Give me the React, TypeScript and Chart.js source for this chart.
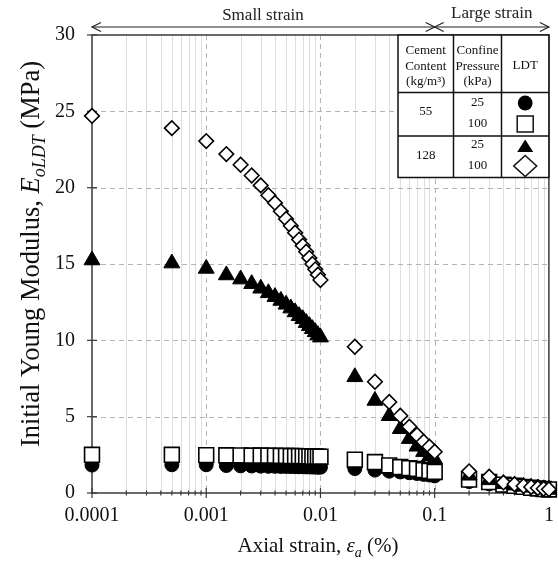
import React, { useEffect, useRef } from "react";
import { Chart, registerables } from "chart.js";

Chart.register(...registerables);

// Axial strain (%) at which the initial Young modulus was evaluated
const strainPct = [
  0.0001, 0.0005, 0.001, 0.0015, 0.002, 0.0025, 0.003, 0.0035, 0.004, 0.0045,
  0.005, 0.0055, 0.006, 0.0065, 0.007, 0.0075, 0.008, 0.0085, 0.009, 0.0095, 0.01,
  0.02, 0.03, 0.04, 0.05, 0.06, 0.07, 0.08, 0.09, 0.1,
  0.2, 0.3, 0.4, 0.5, 0.6, 0.7, 0.8, 0.9, 1.0,
];

// E_oLDT (MPa): cement 55 kg/m3, confining 25 kPa
const e55c25 = [
  1.83, 1.85, 1.85, 1.8, 1.78, 1.77, 1.76, 1.75, 1.75, 1.74,
  1.74, 1.73, 1.73, 1.72, 1.72, 1.71, 1.71, 1.7, 1.7, 1.69, 1.69,
  1.6, 1.5, 1.43, 1.38, 1.33, 1.28, 1.22, 1.18, 1.12,
  0.75, 0.6, 0.48, 0.4, 0.35, 0.3, 0.26, 0.23, 0.2,
];

// cement 55 kg/m3, confining 100 kPa
const e55c100 = [
  2.5, 2.5, 2.48, 2.47, 2.46, 2.45, 2.45, 2.44, 2.44, 2.43,
  2.43, 2.42, 2.42, 2.41, 2.41, 2.4, 2.4, 2.39, 2.39, 2.38, 2.38,
  2.18, 2.03, 1.81, 1.7, 1.63, 1.58, 1.5, 1.45, 1.38,
  0.88, 0.72, 0.55, 0.47, 0.4, 0.34, 0.3, 0.26, 0.23,
];

// cement 128 kg/m3, confining 25 kPa
const e128c25 = [
  15.25, 15.05, 14.7, 14.27, 14.0, 13.7, 13.4, 13.1, 12.85, 12.6,
  12.35, 12.1, 11.85, 11.6, 11.4, 11.15, 10.95, 10.75, 10.55, 10.35, 10.2,
  7.6, 6.05, 5.05, 4.2, 3.55, 3.05, 2.7, 2.4, 2.2,
  1.15, 0.85, 0.6, 0.5, 0.42, 0.36, 0.3, 0.26, 0.22,
];

// cement 128 kg/m3, confining 100 kPa
const e128c100 = [
  24.7, 23.9, 23.05, 22.2, 21.5, 20.8, 20.15, 19.5, 19.0, 18.45,
  17.95, 17.5, 17.05, 16.6, 16.2, 15.8, 15.4, 15.0, 14.65, 14.3, 13.95,
  9.58, 7.29, 5.96, 5.06, 4.34, 3.8, 3.36, 3.03, 2.7,
  1.42, 1.07, 0.68, 0.57, 0.46, 0.39, 0.33, 0.28, 0.24,
];

const xTickValues = [0.0001, 0.001, 0.01, 0.1, 1];
const xTickLabels = ["0.0001", "0.001", "0.01", "0.1", "1"];
const yTickStep = 5;

const cementContent = ["55", "128"];
const confinePressure = ["25", "100"];
const strainZones = ["Small strain", "Large strain"];
const zoneBoundary = 0.1;

const SERIF = '"Liberation Serif", "Times New Roman", serif';
const INK = "#111";

type Part = { t: string; i?: boolean; sub?: boolean };

function drawRich(ctx: CanvasRenderingContext2D, parts: Part[], cx: number, cy: number, size: number) {
  const fontFor = (p: Part) =>
    `${p.i ? "italic " : ""}${p.sub ? Math.round(size * 0.68) : size}px ${SERIF}`;
  let total = 0;
  const widths = parts.map((p) => {
    ctx.font = fontFor(p);
    const w = ctx.measureText(p.t).width;
    total += w;
    return w;
  });
  let x = cx - total / 2;
  const base = cy + size * 0.33;
  ctx.textAlign = "left";
  ctx.textBaseline = "alphabetic";
  parts.forEach((p, k) => {
    ctx.font = fontFor(p);
    ctx.fillText(p.t, x, p.sub ? base + size * 0.22 : base);
    x += widths[k];
  });
}

function line(ctx: CanvasRenderingContext2D, x1: number, y1: number, x2: number, y2: number) {
  ctx.beginPath();
  ctx.moveTo(x1, y1);
  ctx.lineTo(x2, y2);
  ctx.stroke();
}

// grid, frame and tick marks underneath the markers
const gridPlugin = {
  id: "gridFrame",
  beforeDatasetsDraw(chart: any) {
    const { ctx, chartArea: a, scales } = chart;
    const xs = scales.x;
    const ys = scales.y;
    ctx.save();
    ctx.lineWidth = 1;
    ctx.strokeStyle = "#dedede";
    ctx.setLineDash([]);
    for (const d of xTickValues.slice(0, -1)) {
      for (let k = 2; k <= 9; k++) {
        const px = Math.round(xs.getPixelForValue(d * k)) + 0.5;
        line(ctx, px, a.top, px, a.bottom);
      }
    }
    ctx.strokeStyle = "#b4b4b4";
    ctx.setLineDash([5, 4]);
    for (const d of xTickValues.slice(1, -1)) {
      const px = Math.round(xs.getPixelForValue(d)) + 0.5;
      line(ctx, px, a.top, px, a.bottom);
    }
    for (let v = yTickStep; v < ys.max; v += yTickStep) {
      const py = Math.round(ys.getPixelForValue(v)) + 0.5;
      line(ctx, a.left, py, a.right, py);
    }
    ctx.setLineDash([]);
    ctx.strokeStyle = "#3a3a3a";
    ctx.lineWidth = 1.5;
    ctx.strokeRect(a.left, a.top, a.right - a.left, a.bottom - a.top);
    ctx.lineWidth = 1.2;
    for (let v = 0; v <= ys.max; v += yTickStep) {
      const py = ys.getPixelForValue(v);
      line(ctx, a.left - 5, py, a.left + 5, py);
    }
    for (const d of xTickValues) {
      const px = xs.getPixelForValue(d);
      line(ctx, px, a.bottom - 5, px, a.bottom + 5);
      if (d < 1) {
        for (let k = 2; k <= 9; k++) {
          const mx = xs.getPixelForValue(d * k);
          line(ctx, mx, a.bottom - 2.5, mx, a.bottom + 2.5);
        }
      }
    }
    ctx.restore();
  },
};

// key table, strain-range arrows and axis titles
const overlayPlugin = {
  id: "overlay",
  afterDatasetsDraw(chart: any) {
    const { ctx, chartArea: a, scales } = chart;
    const xs = scales.x;
    ctx.save();

    // key table
    const colX = [398, 453.5, 501.5, a.right];
    const rowY = [a.top, 92.5, 136, 177.5];
    ctx.fillStyle = "#fff";
    ctx.fillRect(colX[0], rowY[0], colX[3] - colX[0], rowY[3] - rowY[0]);
    ctx.strokeStyle = INK;
    ctx.lineWidth = 1.5;
    ctx.strokeRect(colX[0], rowY[0], colX[3] - colX[0], rowY[3] - rowY[0]);
    for (let c = 1; c < 3; c++) line(ctx, colX[c], rowY[0], colX[c], rowY[3]);
    for (let r = 1; r < 3; r++) line(ctx, colX[0], rowY[r], colX[3], rowY[r]);

    ctx.fillStyle = INK;
    ctx.font = `13px ${SERIF}`;
    ctx.textAlign = "center";
    ctx.textBaseline = "middle";
    const c0 = (colX[0] + colX[1]) / 2;
    const c1 = (colX[1] + colX[2]) / 2;
    const c2 = (colX[2] + colX[3]) / 2;
    ["Cement", "Content", "(kg/m³)"].forEach((s, k) => ctx.fillText(s, c0, 51 + k * 15.5));
    ["Confine", "Pressure", "(kPa)"].forEach((s, k) => ctx.fillText(s, c1, 51 + k * 15.5));
    ctx.fillText("LDT", c2, 66);
    ctx.fillText(cementContent[0], c0, 112);
    ctx.fillText(cementContent[1], c0, 156);
    ctx.fillText(confinePressure[0], c1, 103);
    ctx.fillText(confinePressure[1], c1, 123.5);
    ctx.fillText(confinePressure[0], c1, 145);
    ctx.fillText(confinePressure[1], c1, 165.5);

    // key symbols
    ctx.fillStyle = "#000";
    ctx.beginPath();
    ctx.arc(c2, 103, 7.4, 0, Math.PI * 2);
    ctx.fill();
    ctx.lineWidth = 1.5;
    ctx.fillStyle = "#fff";
    ctx.fillRect(c2 - 8, 116, 16, 16);
    ctx.strokeRect(c2 - 8, 116, 16, 16);
    ctx.fillStyle = "#000";
    ctx.beginPath();
    ctx.moveTo(c2, 139.5);
    ctx.lineTo(c2 + 8, 152);
    ctx.lineTo(c2 - 8, 152);
    ctx.closePath();
    ctx.fill();
    ctx.fillStyle = "#fff";
    ctx.beginPath();
    ctx.moveTo(c2, 155.5);
    ctx.lineTo(c2 + 11.5, 166);
    ctx.lineTo(c2, 176.5);
    ctx.lineTo(c2 - 11.5, 166);
    ctx.closePath();
    ctx.fill();
    ctx.stroke();

    // strain ranges above the plot
    const ay = 27;
    const mid = xs.getPixelForValue(zoneBoundary);
    ctx.strokeStyle = "#222";
    ctx.lineWidth = 1.2;
    line(ctx, a.left, ay, a.right, ay);
    const head = (x: number, dir: number) => {
      ctx.beginPath();
      ctx.moveTo(x + dir * 9, ay - 4.5);
      ctx.lineTo(x, ay);
      ctx.lineTo(x + dir * 9, ay + 4.5);
      ctx.stroke();
    };
    head(a.left, 1);
    head(mid, -1);
    head(mid, 1);
    head(a.right, -1);
    ctx.fillStyle = "#222";
    ctx.font = `17px ${SERIF}`;
    ctx.textAlign = "center";
    ctx.textBaseline = "middle";
    ctx.fillText(strainZones[0], 263, 16);
    ctx.fillText(strainZones[1], (mid + a.right) / 2, 14);

    // axis titles
    ctx.fillStyle = INK;
    drawRich(
      ctx,
      [{ t: "Axial strain, " }, { t: "ε", i: true }, { t: "a", i: true, sub: true }, { t: " (%)" }],
      318,
      545,
      21
    );
    ctx.translate(30, 254);
    ctx.rotate(-Math.PI / 2);
    drawRich(
      ctx,
      [
        { t: "Initial Young Modulus, " },
        { t: "E", i: true },
        { t: "oLDT", i: true, sub: true },
        { t: " (MPa)" },
      ],
      0,
      0,
      26.5
    );
    ctx.restore();
  },
};

function series(values: number[]) {
  return strainPct.map((x, i) => ({ x, y: values[i] }));
}

export default function App() {
  const ref = useRef<HTMLCanvasElement>(null);

  useEffect(() => {
    const canvas = ref.current;
    if (!canvas) return;
    const tickFont = { family: SERIF, size: 20 };
    const chart = new Chart(canvas, {
      type: "scatter",
      data: {
        datasets: [
          {
            label: "55 kg/m³, 25 kPa",
            data: series(e55c25),
            pointStyle: "circle",
            pointRadius: 7,
            backgroundColor: "#000",
            borderColor: "#000",
            borderWidth: 1,
            order: 4,
            clip: false,
          },
          {
            label: "55 kg/m³, 100 kPa",
            data: series(e55c100),
            pointStyle: "rect",
            pointRadius: 10.5,
            backgroundColor: "#fff",
            borderColor: "#000",
            borderWidth: 1.6,
            order: 3,
            clip: false,
          },
          {
            label: "128 kg/m³, 25 kPa",
            data: series(e128c25),
            pointStyle: "triangle",
            pointRadius: 9.2,
            backgroundColor: "#000",
            borderColor: "#000",
            borderWidth: 1,
            order: 2,
            clip: false,
          },
          {
            label: "128 kg/m³, 100 kPa",
            data: series(e128c100),
            pointStyle: "rectRot",
            pointRadius: 7.3,
            backgroundColor: "#fff",
            borderColor: "#000",
            borderWidth: 1.6,
            order: 1,
            clip: false,
          },
        ] as any,
      },
      options: {
        responsive: false,
        animation: false,
        events: [],
        layout: { padding: { left: 0, top: 35, right: 9, bottom: 0 } },
        plugins: { legend: { display: false }, tooltip: { enabled: false } },
        scales: {
          x: {
            type: "logarithmic",
            min: 0.0001,
            max: 1,
            grid: { display: false, drawTicks: false },
            border: { display: false },
            afterBuildTicks: (s: any) => {
              s.ticks = xTickValues.map((v) => ({ value: v, major: true }));
            },
            afterFit: (s: any) => {
              s.height = 69;
              s.paddingLeft = 0;
              s.paddingRight = 0;
            },
            ticks: {
              font: tickFont,
              color: INK,
              padding: 11,
              maxRotation: 0,
              autoSkip: false,
              callback: (v: any) => {
                const k = xTickValues.indexOf(Number(v));
                return k >= 0 ? xTickLabels[k] : "";
              },
            },
          },
          y: {
            type: "linear",
            min: 0,
            max: 30,
            grid: { display: false, drawTicks: false },
            border: { display: false },
            afterFit: (s: any) => {
              s.width = 92;
              s.paddingTop = 0;
              s.paddingBottom = 0;
            },
            ticks: { stepSize: yTickStep, font: tickFont, color: INK, padding: 17 },
          },
        },
      } as any,
      plugins: [gridPlugin, overlayPlugin],
    });
    return () => chart.destroy();
  }, []);

  return (
    <div
      style={{
        position: "absolute",
        left: 0,
        top: 0,
        width: 558,
        height: 562,
        overflow: "hidden",
        background: "#fff",
      }}
    >
      <canvas ref={ref} width={561} height={562} style={{ display: "block" }} />
    </div>
  );
}
